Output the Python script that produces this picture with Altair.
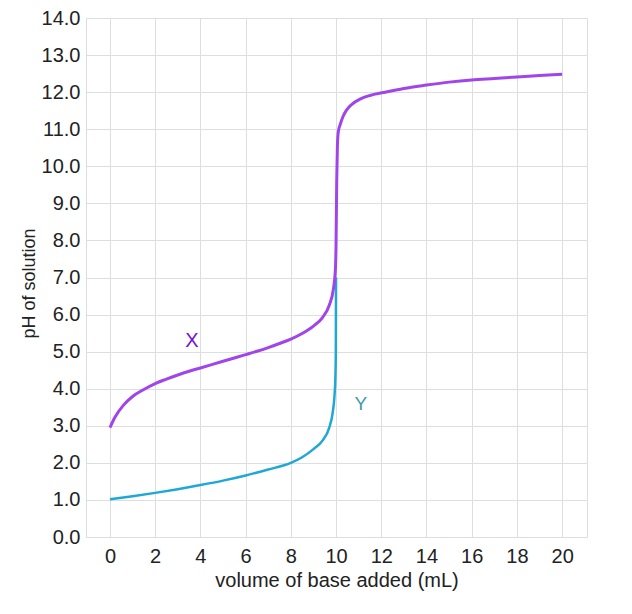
import altair as alt
import pandas as pd

# Curve X (weak acid titration)
x_vol = [0, 0.22, 0.59, 1.0, 1.5, 2, 2.5, 3, 3.5, 4, 4.5, 5, 5.5, 6, 6.5, 7, 7.5, 8, 8.5, 9, 9.4, 9.7,
         9.88, 9.97, 10.0, 10.03, 10.06, 10.1, 10.18, 10.3, 10.47, 10.7, 11.06, 11.5, 12.1, 13, 14,
         15, 16, 17, 18, 19, 20]
x_ph = [2.95, 3.23, 3.55, 3.79, 3.98, 4.14, 4.26, 4.37, 4.47, 4.56, 4.65, 4.74, 4.83, 4.92, 5.01, 5.11,
        5.22, 5.34, 5.49, 5.69, 5.92, 6.25, 6.68, 7.2, 7.9, 9.6, 10.55, 10.93, 11.12, 11.33, 11.52, 11.67,
        11.81, 11.91, 11.99, 12.1, 12.19, 12.27, 12.33, 12.37, 12.41, 12.45, 12.48]

# Curve Y (strong acid titration)
y_vol = [0, 1, 2, 3, 4, 5, 6, 7, 8, 8.5, 9, 9.4, 9.7, 9.85, 9.93, 9.97, 9.99, 10.0]
y_ph = [1.02, 1.1, 1.19, 1.29, 1.4, 1.52, 1.66, 1.82, 2.0, 2.15, 2.37, 2.6, 2.95, 3.35, 3.8, 4.3, 5.0, 7.0]

label_text = ["X", "Y"]
label_vol = [3.63, 11.1]
label_ph = [5.3, 3.6]

x_ticks = list(range(0, 21, 2))
y_ticks = list(range(0, 15))

dfx = pd.DataFrame({"vol": x_vol, "ph": x_ph})
dfy = pd.DataFrame({"vol": y_vol, "ph": y_ph})
dfl = pd.DataFrame({"t": label_text, "vol": label_vol, "ph": label_ph})

FONT = "Liberation Sans"

xscale = alt.Scale(domain=[-1.06, 21.1], nice=False, zero=False)
yscale = alt.Scale(domain=[0, 14], nice=False, zero=False)

xenc = alt.X("vol:Q", scale=xscale, title="volume of base added (mL)",
             axis=alt.Axis(values=x_ticks, grid=True, gridColor="#dedede", gridWidth=1,
                           domain=False, ticks=False, labelFontSize=20, labelColor="#222",
                           labelFont=FONT, labelPadding=9, labelOverlap=False,
                           titleFont=FONT, titleFontSize=20,
                           titleFontWeight="normal", titleColor="#222", titlePadding=4))
yenc = alt.Y("ph:Q", scale=yscale, title="pH of solution",
             axis=alt.Axis(values=y_ticks, format=".1f", grid=True, gridColor="#dedede", gridWidth=1,
                           domain=False, ticks=False, labelFontSize=20, labelColor="#222",
                           labelFont=FONT, labelPadding=6, labelOverlap=False,
                           titleFont=FONT, titleFontSize=18, titleY=265,
                           titleFontWeight="normal", titleColor="#222", titlePadding=3))

line_y = alt.Chart(dfy).mark_line(color="#1fa8d4", strokeWidth=2.5, interpolate="monotone").encode(
    x=xenc, y=yenc)
line_x = alt.Chart(dfx).mark_line(color="#a045ea", strokeWidth=3, interpolate="monotone").encode(
    x=xenc, y=yenc)

lab_x = alt.Chart(dfl[dfl.t == "X"]).mark_text(color="#7015d5", fontSize=20, font=FONT).encode(
    x=xenc, y=yenc, text="t:N")
lab_y = alt.Chart(dfl[dfl.t == "Y"]).mark_text(color="#3d9aab", fontSize=19, font=FONT).encode(
    x=xenc, y=yenc, text="t:N")

chart = alt.layer(line_y, line_x, lab_x, lab_y).properties(
    width=501, height=519,
    autosize=alt.AutoSizeParams(type="none"),
    padding={"left": 78, "top": 10, "right": 37, "bottom": 60},
).configure_view(stroke="#7a7a7a", strokeWidth=3).configure(background="white")

chart.save("out.html", embed_options={"renderer": "svg", "actions": False})
